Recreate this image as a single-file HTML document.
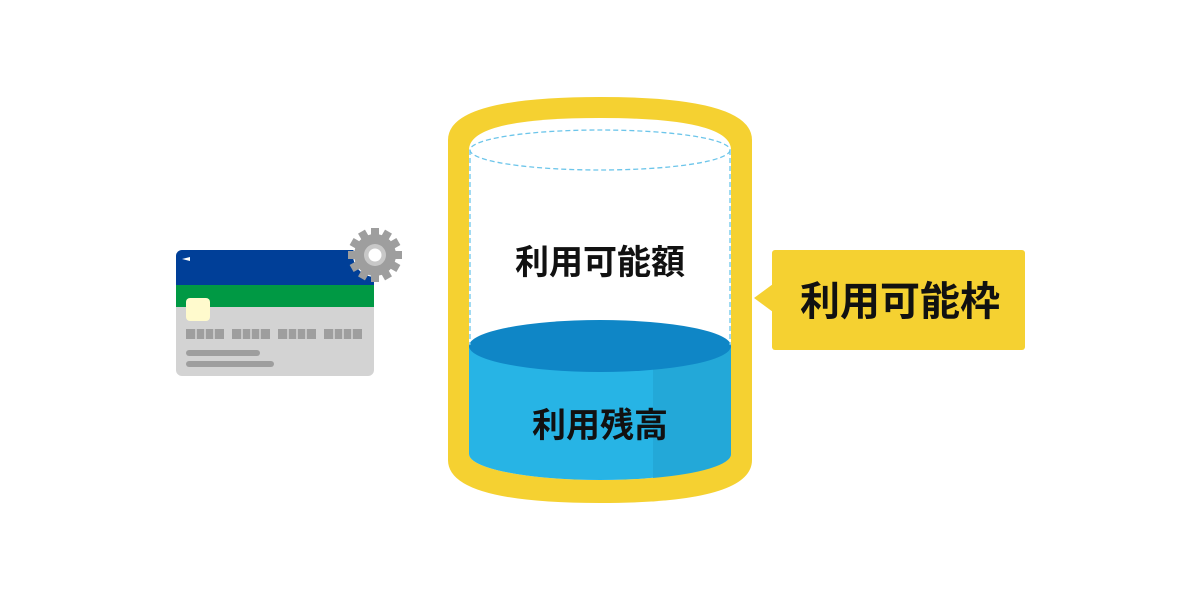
<!DOCTYPE html>
<html><head><meta charset="utf-8"><style>
body{margin:0;background:#fff;}
svg{display:block}
text{font-family:"Liberation Sans","Noto Sans CJK JP",sans-serif;font-weight:bold;fill:#111}
</style></head><body>
<svg width="1200" height="600" viewBox="0 0 1200 600">
<defs><clipPath id="c"><rect x="176" y="250" width="198" height="126" rx="6"/></clipPath></defs>
<g clip-path="url(#c)">
<rect x="176" y="250" width="198" height="126" fill="#d3d3d3"/>
<rect x="176" y="250" width="198" height="35" fill="#003f98"/>
<rect x="176" y="285" width="198" height="22" fill="#009944"/>
</g>
<polygon points="182,259 190,257 190,261" fill="#fff"/>
<rect x="186" y="298" width="24" height="23" rx="4" fill="#fffacd"/>
<g fill="#9e9e9e">
<rect x="186" y="329" width="38" height="10"/><rect x="232" y="329" width="38" height="10"/>
<rect x="278" y="329" width="38" height="10"/><rect x="324" y="329" width="38" height="10"/>
<rect x="186" y="350" width="74" height="6" rx="3"/><rect x="186" y="361" width="88" height="6" rx="3"/>
</g>
<g stroke="#d3d3d3" stroke-width="1.5">
<line x1="196" y1="329" x2="196" y2="339"/><line x1="205" y1="329" x2="205" y2="339"/><line x1="214" y1="329" x2="214" y2="339"/>
<line x1="242" y1="329" x2="242" y2="339"/><line x1="251" y1="329" x2="251" y2="339"/><line x1="260" y1="329" x2="260" y2="339"/>
<line x1="288" y1="329" x2="288" y2="339"/><line x1="297" y1="329" x2="297" y2="339"/><line x1="306" y1="329" x2="306" y2="339"/>
<line x1="334" y1="329" x2="334" y2="339"/><line x1="343" y1="329" x2="343" y2="339"/><line x1="352" y1="329" x2="352" y2="339"/>
</g>
<g transform="translate(375,255)" fill="#9e9e9e">
<circle r="22" fill="#fff"/>
<rect x="-4" y="-27" width="8" height="54"/>
<rect x="-4" y="-27" width="8" height="54" transform="rotate(30)"/>
<rect x="-4" y="-27" width="8" height="54" transform="rotate(60)"/>
<rect x="-4" y="-27" width="8" height="54" transform="rotate(90)"/>
<rect x="-4" y="-27" width="8" height="54" transform="rotate(120)"/>
<rect x="-4" y="-27" width="8" height="54" transform="rotate(150)"/>
<circle r="21"/>
<circle r="11" fill="#c8c8c8"/>
<circle r="6.5" fill="#fff"/>
</g>
<path d="M448,140 Q448,97 600,97 Q752,97 752,140 L752,460 Q752,503 600,503 Q448,503 448,460 Z" fill="#f5d131"/>
<path d="M469,150 Q469,118 600,118 Q731,118 731,150 L731,454 A131,26 0 0 1 469,454 Z" fill="#fff"/>
<path d="M469,346 L731,346 L731,454 A131,26 0 0 1 469,454 Z" fill="#27b4e5"/>
<path d="M653,346 L731,346 L731,454 A131,26 0 0 1 653,478 Z" fill="#23a8d8"/>
<ellipse cx="600" cy="346" rx="131" ry="26" fill="#0f86c6"/>
<g fill="none" stroke="#6cc5ea" stroke-width="1.3" stroke-dasharray="5,3">
<ellipse cx="600" cy="150" rx="130" ry="20"/>
<line x1="470" y1="150" x2="470" y2="345"/><line x1="730" y1="150" x2="730" y2="345"/>
</g>
<text x="600" y="274" font-size="34" text-anchor="middle">利用可能額</text>
<text x="600" y="437" font-size="34" text-anchor="middle">利用残高</text>
<rect x="772" y="250" width="253" height="100" rx="3" fill="#f5d131"/>
<polygon points="754,298 773,284 773,312" fill="#f5d131"/>
<text x="900" y="315" font-size="40" text-anchor="middle">利用可能枠</text>
</svg>
</body></html>
